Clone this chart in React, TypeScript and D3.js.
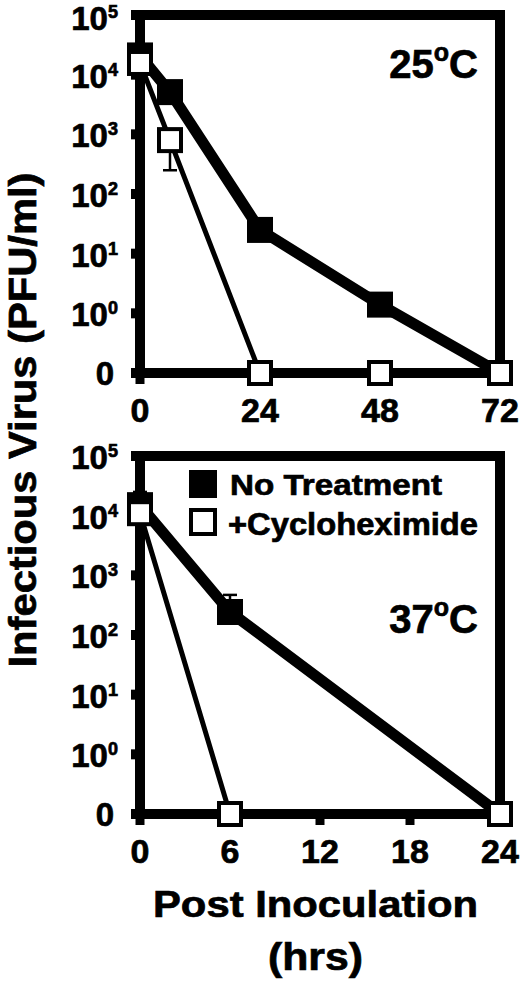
import React from "react";
import * as d3 from "d3";

// ---- data ----
const topTimes = [0, 6, 24, 48, 72];
const topNoTreatment = [21000, 5100, 25, 1.4, 0];
const topCyclo = [15700, 800, 0, 0, 0];
const topCycloErrLow = [null, 250, null, null, null];
const topXTicks = [0, 24, 48, 72];

const botTimes = [0, 6, 24];
const botNoTreatment = [15000, 243, 0];
const botNoTreatmentErrHigh = [25000, 470, null];
const botCyclo = [11000, 0, 0];
const botXTicks = [0, 6, 12, 18, 24];

const yTickExps = [5, 4, 3, 2, 1, 0];
const legendLabels = ["No Treatment", "+Cycloheximide"];

const FONT = "'Liberation Sans', Arial, Helvetica, sans-serif";
const TS = { stroke: "#000", strokeWidth: 0.7 };

type PanelProps = {
  top: number;
  bottom: number;
  xMax: number;
  times: number[];
  filled: number[];
  open: number[];
  filledErrHigh?: (number | null)[];
  openErrLow?: (number | null)[];
  xTicks: number[];
  tempLabel: string;
  tempBaseline: number;
  legend?: boolean;
};

const LEFT = 140;
const RIGHT = 500;

function Panel(p: PanelProps) {
  const x = d3.scaleLinear().domain([0, p.xMax]).range([LEFT, RIGHT]);
  const y0 = d3.scaleLog().domain([0.1, 1e5]).range([p.bottom, p.top]);
  const y = (v: number) => y0(v <= 0 ? 0.1 : v);
  const line = d3
    .line<[number, number]>()
    .x((d) => x(d[0]))
    .y((d) => y(d[1]));
  const filledPts = p.times.map((t, i) => [t, p.filled[i]] as [number, number]);
  const openPts = p.times.map((t, i) => [t, p.open[i]] as [number, number]);
  const ms = 26;
  const tickVals = yTickExps.map((e) => Math.pow(10, e)).concat([0.1]);
  return (
    <g>
      <rect
        x={LEFT}
        y={p.top}
        width={RIGHT - LEFT}
        height={p.bottom - p.top}
        fill="none"
        stroke="#000"
        strokeWidth={10}
      />
      {tickVals.map((v, i) => (
        <line key={"yt" + i} x1={131} x2={LEFT} y1={y(v)} y2={y(v)} stroke="#000" strokeWidth={10} />
      ))}
      {yTickExps.map((e) => (
        <text
          key={"yl" + e}
          x={118}
          y={Math.max(y(Math.pow(10, e)) + 13, 30)}
          textAnchor="end"
          fontFamily={FONT}
          fontWeight="bold"
          fontSize={33}
          {...TS}
        >
          10
          <tspan fontSize={18} dy={-12}>
            {e}
          </tspan>
        </text>
      ))}
      <text x={114} y={y(0.1) + 12} textAnchor="end" fontFamily={FONT} fontWeight="bold" fontSize={33} {...TS}>
        0
      </text>
      {p.xTicks.map((t) => (
        <line key={"xt" + t} x1={x(t)} x2={x(t)} y1={p.bottom} y2={p.bottom + 11} stroke="#000" strokeWidth={9} />
      ))}
      {p.xTicks.map((t) => (
        <text
          key={"xl" + t}
          x={x(t)}
          y={p.bottom + 49}
          textAnchor="middle"
          fontFamily={FONT}
          fontWeight="bold"
          fontSize={34}
          {...TS}
        >
          {t}
        </text>
      ))}
      <path d={line(filledPts) || ""} fill="none" stroke="#000" strokeWidth={11} strokeLinejoin="round" />
      <path d={line(openPts) || ""} fill="none" stroke="#000" strokeWidth={5} strokeLinejoin="round" />
      {p.filledErrHigh &&
        p.filledErrHigh.map((e, i) =>
          e == null ? null : (
            <g key={"fe" + i}>
              <line x1={x(p.times[i])} x2={x(p.times[i])} y1={y(p.filled[i])} y2={y(e)} stroke="#000" strokeWidth={2.5} />
              <line x1={x(p.times[i]) - 7} x2={x(p.times[i]) + 7} y1={y(e)} y2={y(e)} stroke="#000" strokeWidth={2.5} />
            </g>
          )
        )}
      {p.openErrLow &&
        p.openErrLow.map((e, i) =>
          e == null ? null : (
            <g key={"oe" + i}>
              <line x1={x(p.times[i])} x2={x(p.times[i])} y1={y(p.open[i])} y2={y(e)} stroke="#000" strokeWidth={2.5} />
              <line x1={x(p.times[i]) - 7} x2={x(p.times[i]) + 7} y1={y(e)} y2={y(e)} stroke="#000" strokeWidth={2.5} />
            </g>
          )
        )}
      {filledPts.map((d, i) => (
        <rect key={"fm" + i} x={x(d[0]) - ms / 2} y={y(d[1]) - ms / 2} width={ms} height={ms} fill="#000" />
      ))}
      {openPts.map((d, i) => (
        <rect
          key={"om" + i}
          x={x(d[0]) - (ms - 4) / 2}
          y={y(d[1]) - (ms - 4) / 2}
          width={ms - 4}
          height={ms - 4}
          fill="#fff"
          stroke="#000"
          strokeWidth={4}
        />
      ))}
      <text x={478} y={p.tempBaseline} textAnchor="end" fontFamily={FONT} fontWeight="bold" fontSize={40} {...TS}>
        {p.tempLabel}
        <tspan fontSize={25} dy={-17}>
          o
        </tspan>
        <tspan dy={17}>C</tspan>
      </text>
      {p.legend && (
        <g>
          <rect x={189} y={470} width={28} height={28} fill="#000" />
          <rect x={191} y={510} width={24} height={24} fill="#fff" stroke="#000" strokeWidth={4} />
          <text x={230} y={495} fontFamily={FONT} fontWeight="bold" fontSize={30} textLength={212} lengthAdjust="spacingAndGlyphs" {...TS}>
            {legendLabels[0]}
          </text>
          <text x={228} y={535} fontFamily={FONT} fontWeight="bold" fontSize={31} textLength={250} lengthAdjust="spacingAndGlyphs" {...TS}>
            {legendLabels[1]}
          </text>
        </g>
      )}
    </g>
  );
}

export default function App() {
  return (
    <svg width={520} height={982} style={{ position: "absolute", left: 0, top: 0, background: "#fff" }}>
      <rect width={520} height={982} fill="#fff" />
      <Panel
        top={15}
        bottom={373}
        xMax={72}
        times={topTimes}
        filled={topNoTreatment}
        open={topCyclo}
        openErrLow={topCycloErrLow}
        xTicks={topXTicks}
        tempLabel="25"
        tempBaseline={78}
      />
      <Panel
        top={456}
        bottom={814}
        xMax={24}
        times={botTimes}
        filled={botNoTreatment}
        open={botCyclo}
        filledErrHigh={botNoTreatmentErrHigh}
        xTicks={botXTicks}
        tempLabel="37"
        tempBaseline={633}
        legend
      />
      <text
        transform="translate(36,420) rotate(-90)"
        textAnchor="middle"
        fontFamily={FONT}
        fontWeight="bold"
        fontSize={39}
        textLength={495}
        lengthAdjust="spacingAndGlyphs"
        {...TS}
      >
        Infectious Virus (PFU/ml)
      </text>
      <text
        x={315.5}
        y={917}
        textAnchor="middle"
        fontFamily={FONT}
        fontWeight="bold"
        fontSize={37}
        textLength={325}
        lengthAdjust="spacingAndGlyphs"
        {...TS}
      >
        Post Inoculation
      </text>
      <text
        x={315.5}
        y={970}
        textAnchor="middle"
        fontFamily={FONT}
        fontWeight="bold"
        fontSize={38}
        textLength={95}
        lengthAdjust="spacingAndGlyphs"
        {...TS}
      >
        (hrs)
      </text>
    </svg>
  );
}
